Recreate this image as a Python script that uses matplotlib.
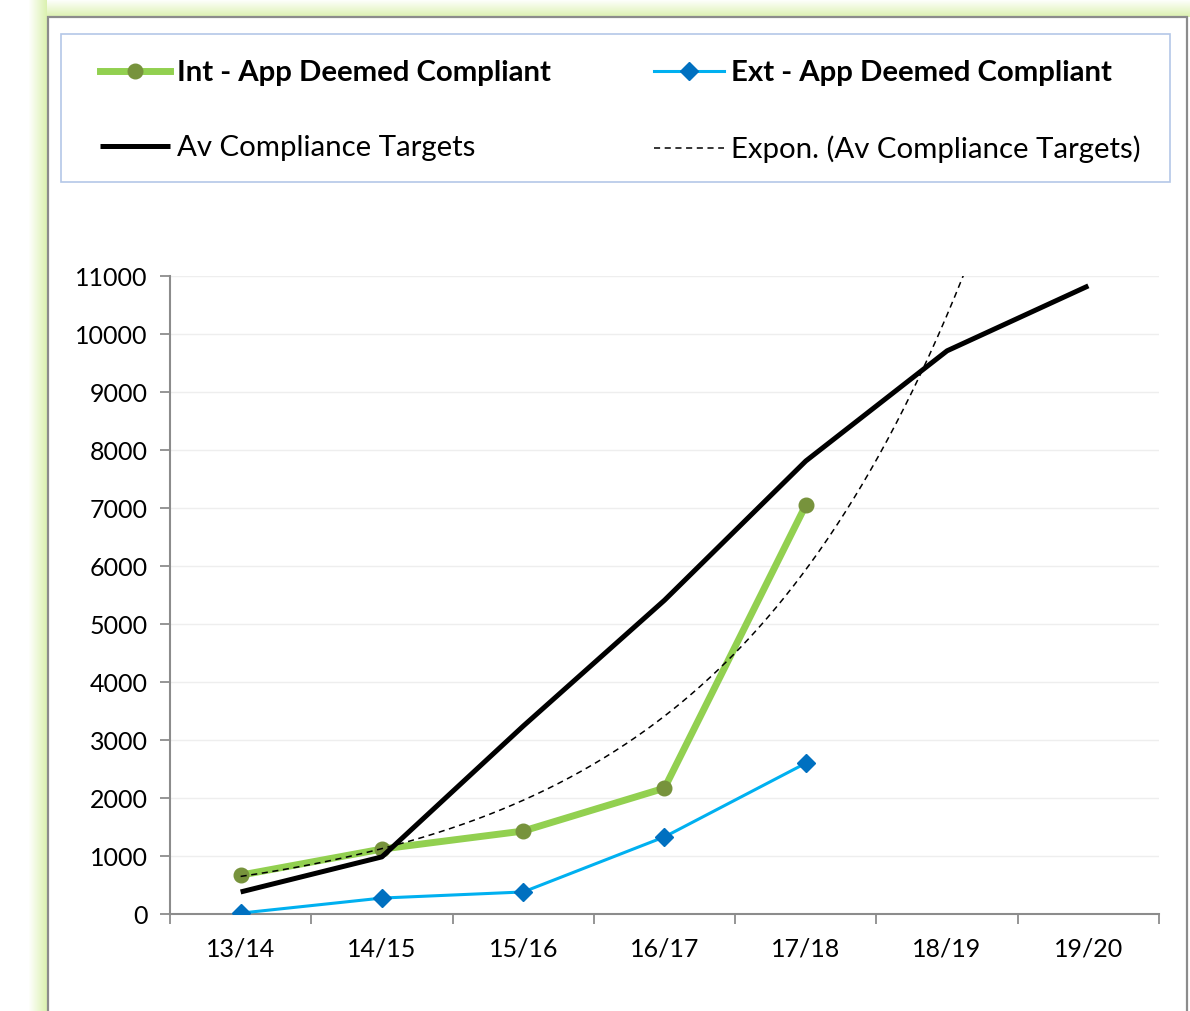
import numpy as np
import matplotlib
matplotlib.use("Agg")
import matplotlib.pyplot as plt
from matplotlib.patches import Rectangle
from matplotlib.ticker import FixedLocator, NullFormatter

# === DATA ===
years = ["13/14", "14/15", "15/16", "16/17", "17/18", "18/19", "19/20"]
int_compliant = [670, 1120, 1430, 2170, 7050]
ext_compliant = [15, 275, 380, 1330, 2600]
av_targets = [380, 985, 3240, 5410, 7810, 9710, 10830]

plt.rcParams["font.family"] = ["Lato", "DejaVu Sans"]

W, H = 1190, 1011
fig = plt.figure(figsize=(W / 100, H / 100), dpi=100)

def fx(px):
    return px / W

def fy(py):
    return 1 - py / H

# === BACKGROUND: green glow + grey chart frame + legend box ===
glow = "#D8F0A8"
for i in range(18):
    a = (i + 1) / 18.0
    fig.patches.append(Rectangle((fx(29 + i), 0), fx(1), fy(0), transform=fig.transFigure,
                                 facecolor=glow, edgecolor="none", alpha=a * 0.9, zorder=-10))
for i in range(17):
    a = (i + 1) / 17.0
    fig.patches.append(Rectangle((fx(47), fy(i + 1)), fx(W - 47), 1 / H,
                                 transform=fig.transFigure, facecolor=glow, edgecolor="none",
                                 alpha=a * 0.9, zorder=-10))
fig.patches.append(Rectangle((fx(48), fy(1030)), fx(1187) - fx(48), fy(17) - fy(1030),
                             transform=fig.transFigure, facecolor="white",
                             edgecolor="#8C8C8C", linewidth=1.6, zorder=-5))
fig.patches.append(Rectangle((fx(61), fy(182)), fx(1170) - fx(61), fy(34) - fy(182),
                             transform=fig.transFigure, facecolor="white",
                             edgecolor="#B4C7E7", linewidth=1.2, zorder=-4))

# === AXES ===
ax = fig.add_axes([fx(170), fy(914), fx(1159) - fx(170), fy(276) - fy(914)])
ax.set_facecolor("white")
x_int = np.arange(1, len(int_compliant) + 1)
x_ext = np.arange(1, len(ext_compliant) + 1)
x_av = np.arange(1, len(av_targets) + 1)

h_int, = ax.plot(x_int, int_compliant, color="#92D050", linewidth=5, marker="o", markersize=10.5,
                 markerfacecolor="#77933C", markeredgecolor="#77933C",
                 label="Int - App Deemed Compliant", zorder=3)
h_ext, = ax.plot(x_ext, ext_compliant, color="#00B0F0", linewidth=2.2, marker="D", markersize=9.5,
                 markerfacecolor="#0070C0", markeredgecolor="#0070C0",
                 label="Ext - App Deemed Compliant", zorder=4)
h_av, = ax.plot(x_av, av_targets, color="black", linewidth=3.6, label="Av Compliance Targets",
                solid_capstyle="butt", zorder=5)

# exponential trendline fitted to the targets (as Excel does)
b, ln_a = np.polyfit(x_av, np.log(av_targets), 1)
xt = np.linspace(1, 7, 300)
h_exp, = ax.plot(xt, np.exp(ln_a + b * xt), color="black", linewidth=1.1, linestyle=(0, (4, 3)),
                 label="Expon. (Av Compliance Targets)", zorder=6)

ax.set_xlim(0.5, 7.5)
ax.set_ylim(0, 11000)
ax.set_yticks(np.arange(0, 11001, 1000))
ax.yaxis.grid(True, color="#EEEEEE", linewidth=1)
ax.set_axisbelow(True)

ax.xaxis.set_major_locator(FixedLocator(np.arange(0.5, 8.0, 1.0)))
ax.xaxis.set_major_formatter(NullFormatter())
ax.xaxis.set_minor_locator(FixedLocator(np.arange(1, 8)))
ax.set_xticklabels(years, minor=True)
ax.tick_params(axis="x", which="major", direction="out", length=7, width=1.3, color="#8C8C8C")
ax.tick_params(axis="x", which="minor", length=0, pad=17, labelsize=18)
ax.tick_params(axis="y", direction="out", length=7, width=1.3, color="#8C8C8C", pad=9,
               labelsize=18)

for s in ["top", "right"]:
    ax.spines[s].set_visible(False)
for s in ["left", "bottom"]:
    ax.spines[s].set_color("#8C8C8C")
    ax.spines[s].set_linewidth(1.5)

# === LEGEND ===
fs = 21.2
bpad = 0.5
bp_px = bpad * fs * 100 / 72
handles = [h_int, h_av, h_ext, h_exp]
labels = [h.get_label() for h in handles]
leg = fig.legend(handles, labels, ncol=2, loc="upper left", mode="expand",
                 bbox_to_anchor=(fx(100 - bp_px), fy(60 - bp_px),
                                 fx(1141 + bp_px) - fx(100 - bp_px), 0.0),
                 fontsize=fs, frameon=False, borderaxespad=0,
                 handlelength=2.38, handletextpad=0.24, labelspacing=1.68, borderpad=bpad,
                 columnspacing=2.0)
for i in (0, 2):
    leg.get_texts()[i].set_fontweight("bold")

fig.savefig("out.png", dpi=100)
